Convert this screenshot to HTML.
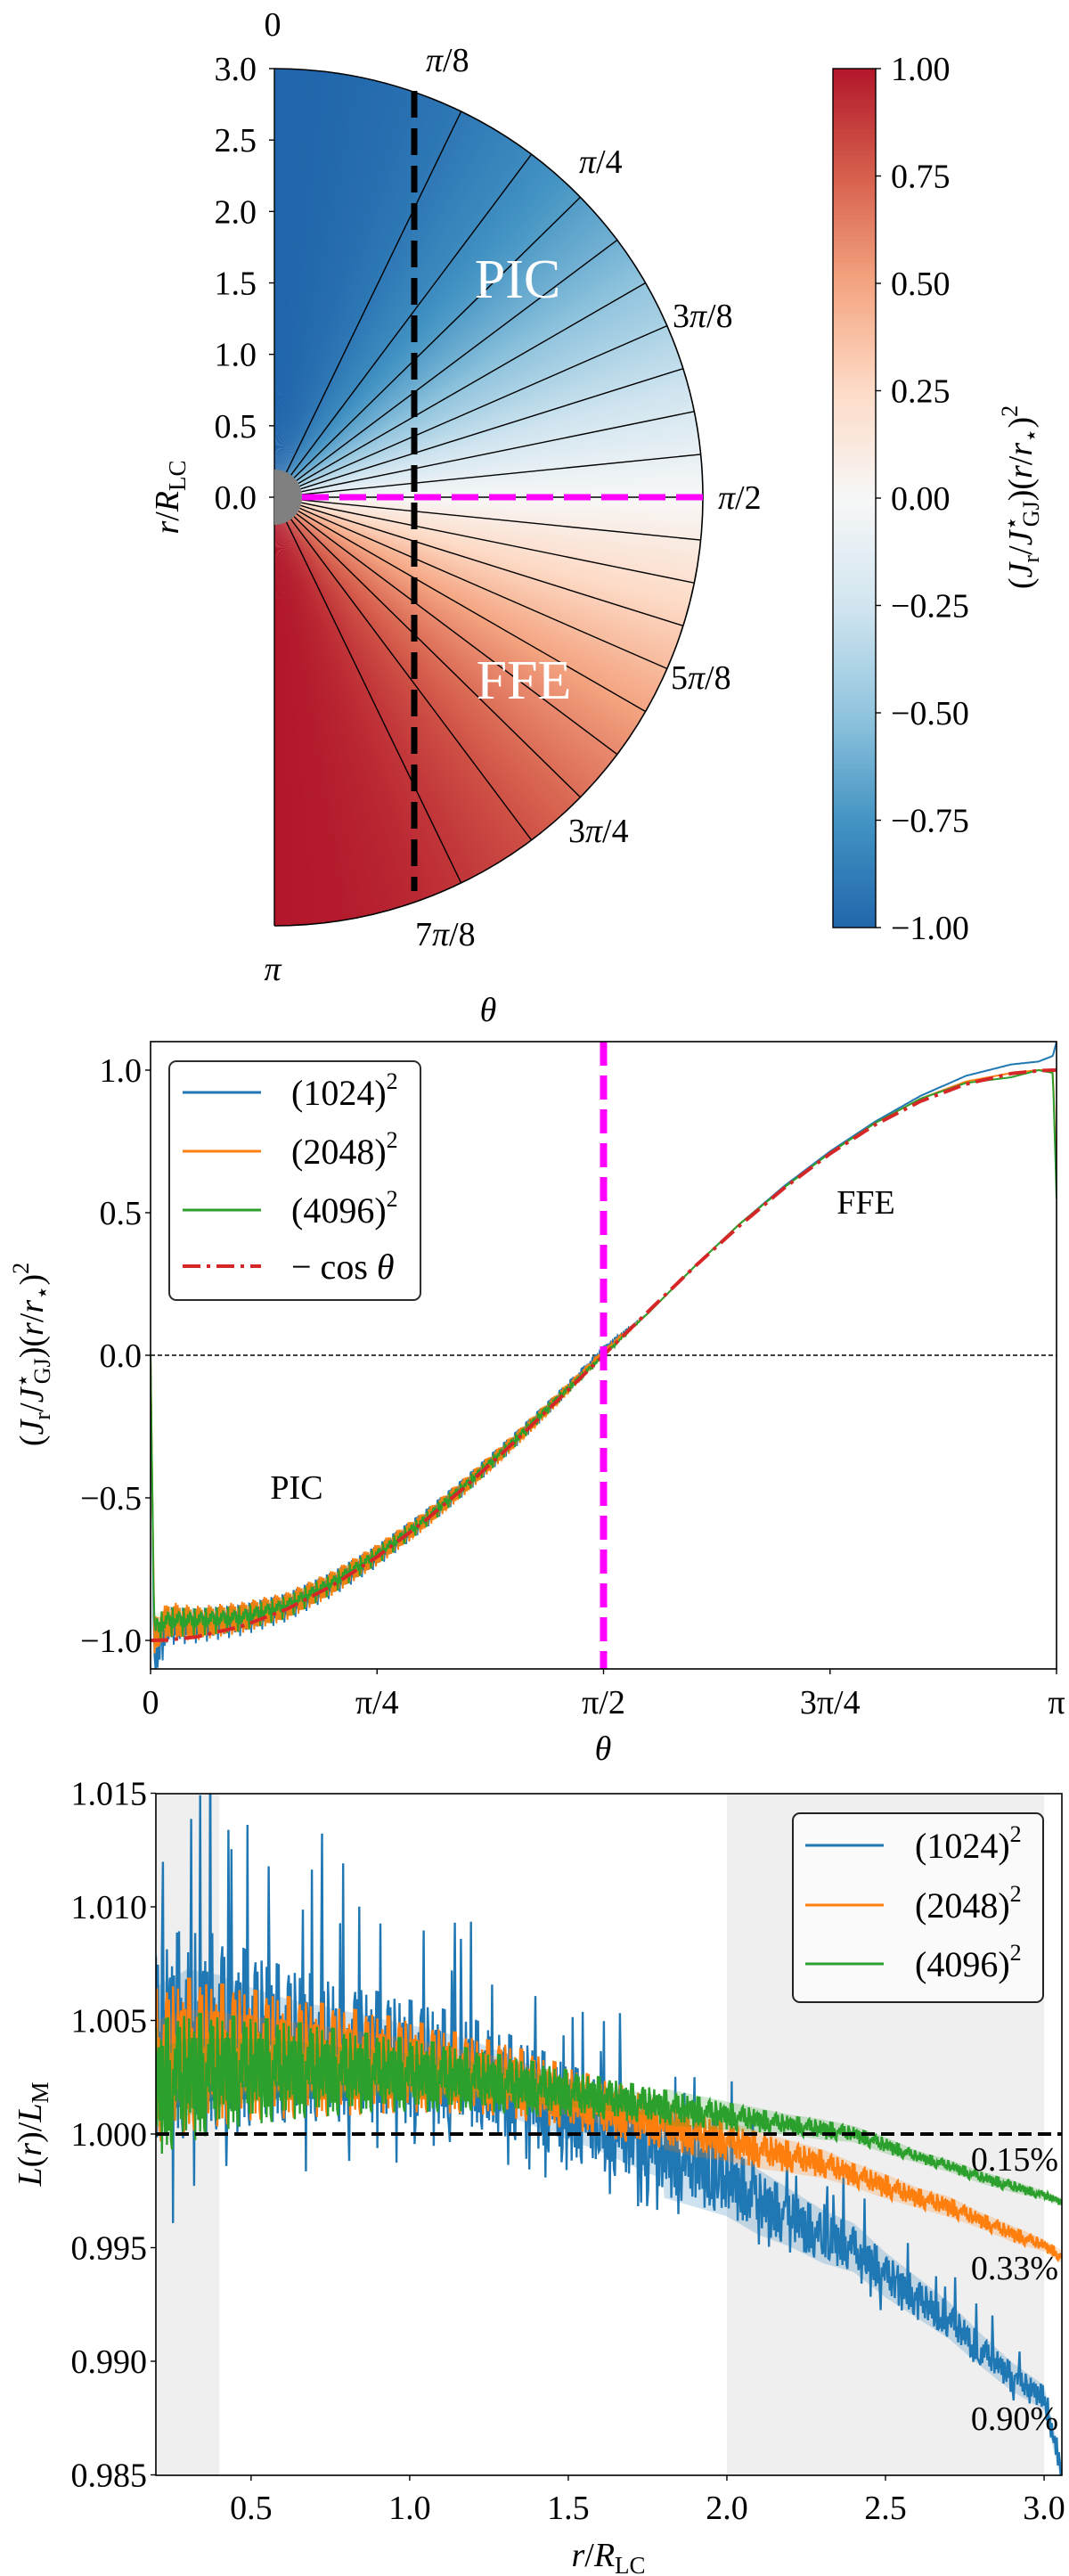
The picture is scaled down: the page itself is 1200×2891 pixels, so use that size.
<!DOCTYPE html>
<html><head><meta charset="utf-8"><style>
html,body{margin:0;padding:0;background:#fff;}
svg{display:block;font-family:"Liberation Serif","DejaVu Serif",serif;}
</style></head><body>
<svg id="fig" xmlns="http://www.w3.org/2000/svg" width="1200" height="2891" viewBox="0 0 1200 2891">
<g id="p1"></g>
<g id="cb"></g>
<g id="p2"></g>
<g id="p3"></g>
<g id="txt" font-size="38" fill="#000">
  <text x="306" y="40" text-anchor="middle">0</text>
  <text x="306" y="1100" text-anchor="middle" font-style="italic">π</text>
  <text x="478" y="80"><tspan font-style="italic">π</tspan>/8</text>
  <text x="650" y="194"><tspan font-style="italic">π</tspan>/4</text>
  <text x="755" y="367">3<tspan font-style="italic">π</tspan>/8</text>
  <text x="806" y="571"><tspan font-style="italic">π</tspan>/2</text>
  <text x="753" y="773">5<tspan font-style="italic">π</tspan>/8</text>
  <text x="638" y="945">3<tspan font-style="italic">π</tspan>/4</text>
  <text x="466" y="1061">7<tspan font-style="italic">π</tspan>/8</text>
  <text x="548" y="1146" text-anchor="middle" font-style="italic">θ</text>
  <text transform="translate(200,558) rotate(-90)" text-anchor="middle"><tspan font-style="italic">r</tspan>/<tspan font-style="italic">R</tspan><tspan font-size="27" dy="8">LC</tspan></text>
  <text x="581" y="334" text-anchor="middle" font-size="62" fill="#fff">PIC</text>
  <text x="588" y="784" text-anchor="middle" font-size="62" fill="#fff">FFE</text>
  <text transform="translate(1158,558) rotate(-90)" text-anchor="middle">(<tspan font-style="italic">J</tspan><tspan font-size="26" dy="8">r</tspan><tspan dy="-8">/</tspan><tspan font-style="italic">J</tspan><tspan font-size="26" dy="-14">⋆</tspan><tspan font-size="26" dx="-12" dy="22">GJ</tspan><tspan dy="-8">)(</tspan><tspan font-style="italic">r</tspan>/<tspan font-style="italic">r</tspan><tspan font-size="26" dy="8">⋆</tspan><tspan dy="-8">)</tspan><tspan font-size="26" dy="-16">2</tspan></text>
  <text x="677" y="1975" text-anchor="middle" font-style="italic">θ</text>
  <text transform="translate(48,1520) rotate(-90)" text-anchor="middle">(<tspan font-style="italic">J</tspan><tspan font-size="26" dy="8">r</tspan><tspan dy="-8">/</tspan><tspan font-style="italic">J</tspan><tspan font-size="26" dy="-14">⋆</tspan><tspan font-size="26" dx="-12" dy="22">GJ</tspan><tspan dy="-8">)(</tspan><tspan font-style="italic">r</tspan>/<tspan font-style="italic">r</tspan><tspan font-size="26" dy="8">⋆</tspan><tspan dy="-8">)</tspan><tspan font-size="26" dy="-16">2</tspan></text>
  <text x="333" y="1682" text-anchor="middle">PIC</text>
  <text x="972" y="1362" text-anchor="middle">FFE</text>
  <text x="683" y="2880" text-anchor="middle"><tspan font-style="italic">r</tspan>/<tspan font-style="italic">R</tspan><tspan font-size="27" dy="8">LC</tspan></text>
  <text transform="translate(46,2395) rotate(-90)" text-anchor="middle"><tspan font-style="italic">L</tspan>(<tspan font-style="italic">r</tspan>)/<tspan font-style="italic">L</tspan><tspan font-size="27" dy="8">M</tspan></text>
  <text x="1188" y="2436" text-anchor="end">0.15%</text>
  <text x="1188" y="2558" text-anchor="end">0.33%</text>
  <text x="1188" y="2727" text-anchor="end">0.90%</text>
</g>
</svg>
<script>
var NS='http://www.w3.org/2000/svg';
function el(parent,tag,attrs){var e=document.createElementNS(NS,tag);for(var k in attrs)e.setAttribute(k,attrs[k]);parent.appendChild(e);return e;}

// ===== Panel 2 data (theta as fraction of pi) =====
var thetaFrac=[0,0.004,0.02,0.05,0.1,0.15,0.2,0.25,0.3,0.35,0.4,0.45,0.5,0.55,0.6,0.65,0.7,0.75,0.8,0.85,0.9,0.95,0.98,0.996,1];
var cosModel=[-1,-1,-0.998,-0.988,-0.951,-0.891,-0.809,-0.707,-0.588,-0.454,-0.309,-0.156,0,0.156,0.309,0.454,0.588,0.707,0.809,0.891,0.951,0.988,0.998,1.0,1.0];
var jr1024=[0,-1.08,-0.95,-0.95,-0.93,-0.885,-0.805,-0.705,-0.585,-0.45,-0.305,-0.15,0.02,0.15,0.31,0.46,0.595,0.715,0.82,0.91,0.98,1.02,1.03,1.05,1.1];
var jr2048=[0,-0.98,-0.93,-0.94,-0.92,-0.88,-0.8,-0.7,-0.585,-0.45,-0.305,-0.15,0.01,0.15,0.31,0.46,0.59,0.71,0.815,0.9,0.96,0.99,1.0,1.0,0.6];
var jr4096=[0,-0.96,-0.93,-0.93,-0.92,-0.88,-0.8,-0.7,-0.585,-0.45,-0.305,-0.15,0.0,0.15,0.31,0.46,0.59,0.71,0.815,0.9,0.955,0.975,1.0,0.99,0.55];
var jrNoise=[0,0.06,0.06,0.055,0.05,0.045,0.04,0.035,0.03,0.028,0.025,0.02,0.01,0,0,0,0,0,0,0,0,0,0,0,0];
var p2YTicks=[-1.0,-0.5,0.0,0.5,1.0];
var p2YTickLabels=['−1.0','−0.5','0.0','0.5','1.0'];
var p2XTicks=[0,0.25,0.5,0.75,1];
var p2XTickLabels=['0','π/4','π/2','3π/4','π'];

// ===== Panel 3 data =====
var rVals=[0.2,0.3,0.4,0.5,0.6,0.7,0.8,0.9,1.0,1.1,1.2,1.3,1.4,1.5,1.6,1.7,1.8,1.9,2.0,2.1,2.2,2.3,2.4,2.5,2.6,2.7,2.8,2.9,3.0,3.056];
var lum1024=[1.004,1.0045,1.0045,1.0042,1.004,1.0038,1.0036,1.0034,1.0032,1.003,1.0027,1.0022,1.0016,1.001,1.0004,0.9997,0.999,0.9985,0.998,0.997,0.9963,0.9955,0.995,0.9938,0.9928,0.9918,0.9905,0.9893,0.9884,0.985];
var lum2048=[1.003,1.0035,1.0035,1.0035,1.0034,1.0033,1.0032,1.0031,1.003,1.0028,1.0026,1.0024,1.002,1.0016,1.0012,1.0008,1.0004,1.0,0.9997,0.9993,0.999,0.9987,0.9982,0.9977,0.9972,0.9968,0.9962,0.9956,0.9951,0.9946];
var lum4096=[1.002,1.0025,1.0027,1.0028,1.0028,1.0028,1.0027,1.0027,1.0026,1.0025,1.0024,1.0022,1.002,1.0018,1.0016,1.0014,1.0012,1.001,1.0008,1.0006,1.0004,1.0002,1.0,0.9995,0.999,0.9986,0.9981,0.9977,0.9973,0.997];
var noise1024=[0.005,0.0055,0.005,0.0045,0.004,0.0038,0.0036,0.0034,0.0032,0.003,0.0028,0.0027,0.0026,0.0025,0.0023,0.0022,0.002,0.0019,0.0018,0.0016,0.0014,0.0013,0.0012,0.0011,0.001,0.0009,0.0008,0.0007,0.0006,0.0005];
var noise2048=[0.004,0.004,0.0037,0.0034,0.0032,0.003,0.0028,0.0026,0.0024,0.0022,0.002,0.0019,0.0018,0.0016,0.0015,0.0014,0.0012,0.0011,0.001,0.0009,0.0008,0.0007,0.0006,0.0006,0.0005,0.0005,0.0004,0.0004,0.0003,0.0003];
var noise4096=[0.0035,0.0034,0.003,0.0028,0.0026,0.0024,0.0022,0.002,0.0019,0.0018,0.0016,0.0015,0.0014,0.0012,0.0011,0.001,0.0009,0.0008,0.0007,0.0006,0.0005,0.0005,0.0004,0.0004,0.0003,0.0003,0.0003,0.0003,0.0002,0.0002];
var p3YTicks=[0.985,0.990,0.995,1.000,1.005,1.010,1.015];
var p3YTickLabels=['0.985','0.990','0.995','1.000','1.005','1.010','1.015'];
var p3XTicks=[0.5,1.0,1.5,2.0,2.5,3.0];
var p3XTickLabels=['0.5','1.0','1.5','2.0','2.5','3.0'];

// ===== Panel 1 data =====
var fieldLineCos=[0.9,0.8,0.7,0.6,0.5,0.4,0.3,0.2,0.1,0,-0.1,-0.2,-0.3,-0.4,-0.5,-0.6,-0.7,-0.8,-0.9];
var p1YTicks=[0,0.5,1.0,1.5,2.0,2.5,3.0];
var p1YTickLabels=['0.0','0.5','1.0','1.5','2.0','2.5','3.0'];
var cbTicks=[-1,-0.75,-0.5,-0.25,0,0.25,0.5,0.75,1];
var cbTickLabels=['−1.00','−0.75','−0.50','−0.25','0.00','0.25','0.50','0.75','1.00'];

// fixed visual jitter pattern (texture only)
var jit=[0.9,-0.7,0.4,-1,0.6,-0.3,1,-0.8,0.2,-0.5,0.8,-0.9,0.3,-0.2,0.7,-0.6,1,-0.4,0.5,-1,0.1,-0.7,0.9,-0.3,0.6,-0.8,0.35,-0.55,0.75,-0.15,0.95,-0.85,0.45];
var spike=[0,0,0,1.8,0,0,0,0,0,-1.2,0,0,0,0,2.2,0,0,0,0,0,0,1.5,0,0,0,-1.6,0,0,0,0,0,1.3,0,0,0,0,0];

function interp(xs,ys,x){
  if(x<=xs[0])return ys[0];
  for(var i=1;i<xs.length;i++){if(x<=xs[i]){var t=(x-xs[i-1])/(xs[i]-xs[i-1]);return ys[i-1]+t*(ys[i]-ys[i-1]);}}
  return ys[ys.length-1];
}
var cmapStops=['#2166ac','#4393c3','#92c5de','#d1e5f0','#f7f7f7','#fddbc7','#f4a582','#d6604d','#b2182b'];
function hex2rgb(h){return [parseInt(h.substr(1,2),16),parseInt(h.substr(3,2),16),parseInt(h.substr(5,2),16)];}
function cmap(v){
  var t=(Math.max(-1,Math.min(1,v))+1)/2*8;var i=Math.min(7,Math.floor(t));var f=t-i;
  var a=hex2rgb(cmapStops[i]),b=hex2rgb(cmapStops[i+1]);
  return 'rgb('+Math.round(a[0]+f*(b[0]-a[0]))+','+Math.round(a[1]+f*(b[1]-a[1]))+','+Math.round(a[2]+f*(b[2]-a[2]))+')';
}

// ===== Panel 1 =====
(function(){
  var g=document.getElementById('p1');
  var cx=308,cy=558,R=481,Rs=31;
  var N=360;
  for(var i=0;i<N;i++){
    var t0=Math.PI*i/N,t1=Math.PI*(i+1.3)/N,tm=Math.PI*(i+0.5)/N;
    var p=el(g,'path',{d:'M'+cx+','+cy+'L'+(cx+R*Math.sin(t0))+','+(cy-R*Math.cos(t0))+'A'+R+','+R+' 0 0 1 '+(cx+R*Math.sin(Math.min(Math.PI,t1)))+','+(cy-R*Math.cos(Math.min(Math.PI,t1)))+'Z',fill:cmap(interp(thetaFrac,cosModel,tm/Math.PI))});
    
    
  }
  fieldLineCos.forEach(function(c){
    var th=Math.acos(c);
    var l=el(g,'line',{x1:cx+Rs*Math.sin(th),y1:cy-Rs*Math.cos(th),x2:cx+R*Math.sin(th),y2:cy-R*Math.cos(th),stroke:'#000','stroke-width':1.4});
    
    
  });
  var arc=el(g,'path',{d:'M'+cx+','+(cy-R)+'A'+R+','+R+' 0 0 1 '+cx+','+(cy+R),fill:'none',stroke:'#000','stroke-width':1.6});
  
  
  var ax=el(g,'line',{x1:cx,y1:cy-R,x2:cx,y2:cy+R,stroke:'#000','stroke-width':1.4});
  
  
  var star=el(g,'path',{d:'M'+cx+','+(cy-Rs)+'A'+Rs+','+Rs+' 0 0 1 '+cx+','+(cy+Rs)+'Z',fill:'#808080'});
  
  
  var mg=el(g,'line',{x1:cx+Rs,y1:cy,x2:cx+R,y2:cy,stroke:'#ff00ff','stroke-width':7,'stroke-dasharray':'30 12'});
  
  
  var bd=el(g,'line',{x1:465,y1:102,x2:465,y2:1000,stroke:'#000','stroke-width':7,'stroke-dasharray':'30 12'});
  
  
  p1YTicks.forEach(function(v,i){
    var y=cy-v*R/3;
    var tk=el(g,'line',{x1:cx-6,y1:y,x2:cx,y2:y,stroke:'#000','stroke-width':1.4});
    
    
    var tx=el(g,'text',{x:288,y:y+13,'text-anchor':'end','font-size':38});
    tx.textContent=p1YTickLabels[i];
    
    
  });
})();

// ===== Colorbar =====
(function(){
  var g=document.getElementById('cb');
  var x0=935,x1=983,yt=77,yb=1041;
  for(var i=0;i<200;i++){
    var v=-1+2*(i+0.5)/200;
    var h=(yb-yt)/200;
    var r=el(g,'rect',{x:x0,y:yb-(i+1)*h-0.5,width:x1-x0,height:h+1,fill:cmap(v)});
    
    
  }
  var fr=el(g,'rect',{x:x0,y:yt,width:x1-x0,height:yb-yt,fill:'none',stroke:'#000','stroke-width':1.4});
  
  
  cbTicks.forEach(function(v,i){
    var y=yb-(v+1)/2*(yb-yt);
    var tk=el(g,'line',{x1:x1,y1:y,x2:x1+6,y2:y,stroke:'#000','stroke-width':1.4});
    
    
    var tx=el(g,'text',{x:1000,y:y+13,'font-size':38});
    tx.textContent=cbTickLabels[i];
    
    
  });
})();

// ===== Panel 2 =====
var P2={l:169,r:1186,t:1169,b:1873};
function X2(f){return P2.l+f*(P2.r-P2.l);}
function Y2(v){return 1521-v*320;}
(function(){
  var g=document.getElementById('p2');
  var cp=el(g,'clipPath',{id:'clip2'});el(cp,'rect',{x:P2.l,y:P2.t,width:P2.r-P2.l,height:P2.b-P2.t});
  var inner=el(g,'g',{'clip-path':'url(#clip2)'});
  var zl=el(inner,'line',{x1:P2.l,y1:Y2(0),x2:P2.r,y2:Y2(0),stroke:'#000','stroke-width':1.4,'stroke-dasharray':'5 3'});
  
  
  var series=[[jr1024,'#1f77b4','series-1024'],[jr2048,'#ff7f0e','series-2048'],[jr4096,'#2ca02c','series-4096']];
  series.forEach(function(s,si){
    var pts=[],band=[],bandLo=[];var N=900;
    for(var i=0;i<=N;i++){
      var f=i/N; var m=interp(thetaFrac,s[0],f); var a=interp(thetaFrac,jrNoise,f);
      var j=jit[(i*3+si*7)%jit.length];
      pts.push(X2(f).toFixed(1)+','+Y2(m+a*j*1.1).toFixed(1));
      band.push(X2(f).toFixed(1)+','+Y2(m+a*0.8).toFixed(1));
      bandLo.unshift(X2(f).toFixed(1)+','+Y2(m-a*0.8).toFixed(1));
    }
    var bp=el(inner,'polygon',{points:band.concat(bandLo).join(' '),fill:s[1],opacity:0.1});
    
    
    var pl=el(inner,'polyline',{points:pts.join(' '),fill:'none',stroke:s[1],'stroke-width':2});
    
    
  });
  var cpts=[];
  for(var i=0;i<=200;i++){var f=i/200;cpts.push(X2(f).toFixed(1)+','+Y2(interp(thetaFrac,cosModel,f)).toFixed(1));}
  var cl=el(inner,'polyline',{points:cpts.join(' '),fill:'none',stroke:'#d62728','stroke-width':4,'stroke-dasharray':'20 7 4 7'});
  
  
  var mv=el(inner,'line',{x1:X2(0.5),y1:P2.t,x2:X2(0.5),y2:P2.b,stroke:'#ff00ff','stroke-width':8,'stroke-dasharray':'27 11'});
  
  
  var fr=el(g,'rect',{x:P2.l,y:P2.t,width:P2.r-P2.l,height:P2.b-P2.t,fill:'none',stroke:'#000','stroke-width':1.6});
  
  
  p2YTicks.forEach(function(v,i){
    var y=Y2(v);
    var tk=el(g,'line',{x1:P2.l-6,y1:y,x2:P2.l,y2:y,stroke:'#000','stroke-width':1.4});
    
    
    var tx=el(g,'text',{x:P2.l-10,y:y+13,'text-anchor':'end','font-size':38});
    tx.textContent=p2YTickLabels[i];
    
    
  });
  p2XTicks.forEach(function(v,i){
    var x=X2(v);
    var tk=el(g,'line',{x1:x,y1:P2.b,x2:x,y2:P2.b+6,stroke:'#000','stroke-width':1.4});
    
    
    var tx=el(g,'text',{x:x,y:1923,'text-anchor':'middle','font-size':38});
    tx.textContent=p2XTickLabels[i];
    
    
  });
  var lg=el(g,'g',{});
  
  
  el(lg,'rect',{x:190,y:1191,width:282,height:268,rx:8,fill:'#fff',stroke:'#222','stroke-width':2,opacity:0.95});
  var items=[['#1f77b4','1024',null],['#ff7f0e','2048',null],['#2ca02c','4096',null],['#d62728',null,'20 7 4 7']];
  var ys=[1226,1292,1358,1421];
  items.forEach(function(it,i){
    var ln=el(lg,'line',{x1:205,y1:ys[i],x2:293,y2:ys[i],stroke:it[0],'stroke-width':it[2]?4:3,'stroke-dasharray':it[2]||'none'});
    
    
    var tx=el(lg,'text',{x:327,y:ys[i]+14,'font-size':40});
    if(it[1]){tx.innerHTML='('+it[1]+')<tspan font-size="26" dy="-18">2</tspan>';}
    else{tx.innerHTML='− cos <tspan font-style="italic">θ</tspan>';}
    
    
  });
})();

// ===== Panel 3 =====
var P3={l:175,r:1192,t:2013,b:2778};
function X3(r){return P3.l+(r-0.2)*(P3.r-P3.l)/2.856;}
function Y3(v){return 2395-(v-1)*25500;}
(function(){
  var g=document.getElementById('p3');
  var cp=el(g,'clipPath',{id:'clip3'});el(cp,'rect',{x:P3.l,y:P3.t,width:P3.r-P3.l,height:P3.b-P3.t});
  var inner=el(g,'g',{'clip-path':'url(#clip3)'});
  var s1=el(inner,'rect',{x:X3(0.2),y:P3.t,width:X3(0.4)-X3(0.2),height:P3.b-P3.t,fill:'#efefef'});
  
  
  var s2=el(inner,'rect',{x:X3(2.0),y:P3.t,width:X3(3.0)-X3(2.0),height:P3.b-P3.t,fill:'#efefef'});
  
  
  var series=[[lum1024,noise1024,'#1f77b4','lum-1024'],[lum2048,noise2048,'#ff7f0e','lum-2048'],[lum4096,noise4096,'#2ca02c','lum-4096']];
  var N=900;
  series.forEach(function(s,si){
    var pts=[],hi=[],lo=[];
    for(var i=0;i<=N;i++){
      var r=0.2+2.856*i/N; var m=interp(rVals,s[0],r); var a=interp(rVals,s[1],r);
      var j=jit[(i*5+si*11)%jit.length];
      var sp=(si===0)?spike[(i*3)%spike.length]*a*0.8:0;
      var v=m+a*0.85*j+sp*(j>0?1:-0.4);
      pts.push(X3(r).toFixed(1)+','+Y3(v).toFixed(1));
      var bw=r>1.8?0.9:0.5;
      hi.push(X3(r).toFixed(1)+','+Y3(m+a*bw).toFixed(1));
      lo.unshift(X3(r).toFixed(1)+','+Y3(m-a*bw).toFixed(1));
    }
    var bp=el(inner,'polygon',{points:hi.concat(lo).join(' '),fill:s[2],opacity:0.22});
    
    
    var pl=el(inner,'polyline',{points:pts.join(' '),fill:'none',stroke:s[2],'stroke-width':2.4});
    
    
  });
  var rl=el(inner,'line',{x1:P3.l,y1:Y3(1),x2:P3.r,y2:Y3(1),stroke:'#000','stroke-width':4,'stroke-dasharray':'15 7'});
  
  
  var fr=el(g,'rect',{x:P3.l,y:P3.t,width:P3.r-P3.l,height:P3.b-P3.t,fill:'none',stroke:'#000','stroke-width':1.6});
  
  
  p3YTicks.forEach(function(v,i){
    var y=Y3(v);
    var tk=el(g,'line',{x1:P3.l-6,y1:y,x2:P3.l,y2:y,stroke:'#000','stroke-width':1.4});
    
    
    var tx=el(g,'text',{x:P3.l-10,y:y+13,'text-anchor':'end','font-size':38});
    tx.textContent=p3YTickLabels[i];
    
    
  });
  p3XTicks.forEach(function(v,i){
    var x=X3(v);
    var tk=el(g,'line',{x1:x,y1:P3.b,x2:x,y2:P3.b+6,stroke:'#000','stroke-width':1.4});
    
    
    var tx=el(g,'text',{x:x,y:2827,'text-anchor':'middle','font-size':38});
    tx.textContent=p3XTickLabels[i];
    
    
  });
  var lg=el(g,'g',{});
  
  
  el(lg,'rect',{x:890,y:2035,width:281,height:212,rx:8,fill:'#fafafa',stroke:'#222','stroke-width':2});
  var cols=['#1f77b4','#ff7f0e','#2ca02c'],labs=['1024','2048','4096'],ys=[2071,2138,2204];
  cols.forEach(function(c,i){
    var ln=el(lg,'line',{x1:904,y1:ys[i],x2:992,y2:ys[i],stroke:c,'stroke-width':3});
    
    
    var tx=el(lg,'text',{x:1027,y:ys[i]+14,'font-size':40});
    tx.innerHTML='('+labs[i]+')<tspan font-size="26" dy="-18">2</tspan>';
    
    
  });
})();
document.getElementById('fig').appendChild(document.getElementById('txt'));
</script>
</body></html>
